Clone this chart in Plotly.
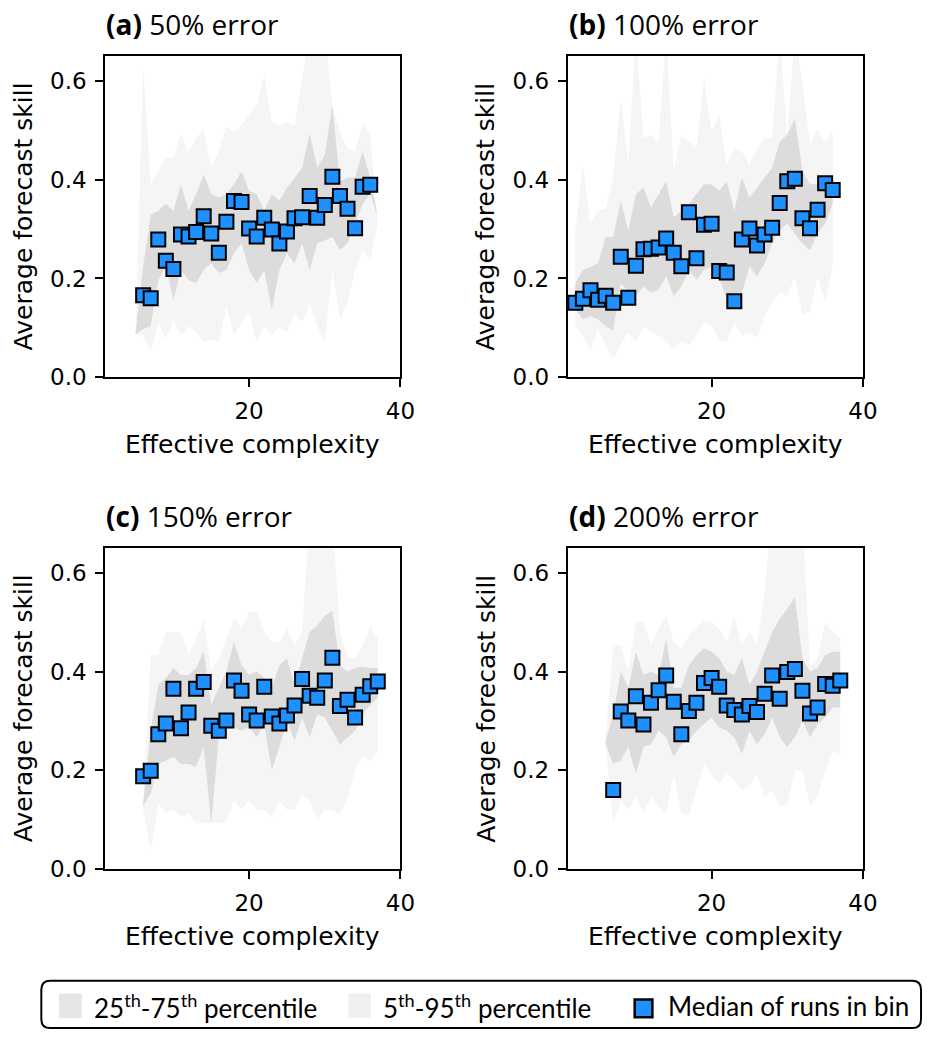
import plotly.graph_objects as go

W, H = 938, 1045

# ---------------- data ----------------
# Panel (a) 50% error
a_x = list(range(6, 37))
a_med = [0.166, 0.160, 0.279, 0.236, 0.219, 0.289, 0.285, 0.294, 0.326, 0.291, 0.252, 0.315,
         0.357, 0.355, 0.301, 0.285, 0.323, 0.299, 0.271, 0.295, 0.322, 0.324, 0.367, 0.323,
         0.349, 0.406, 0.367, 0.341, 0.302, 0.386, 0.390]
a_bx = list(range(5, 38))
a_p95 = [0.090, 0.634, 0.391, 0.417, 0.444, 0.444, 0.494, 0.457, 0.484, 0.504, 0.424, 0.457,
         0.507, 0.497, 0.511, 0.531, 0.551, 0.614, 0.517, 0.511, 0.517, 0.511, 0.604, 0.700,
         0.700, 0.700, 0.551, 0.497, 0.464, 0.457, 0.511, 0.491, 0.311]
a_p5 = [0.087, 0.084, 0.051, 0.111, 0.077, 0.117, 0.084, 0.104, 0.091, 0.071, 0.077, 0.071,
        0.144, 0.084, 0.111, 0.131, 0.071, 0.104, 0.084, 0.104, 0.091, 0.131, 0.111, 0.151,
        0.104, 0.071, 0.217, 0.117, 0.151, 0.217, 0.257, 0.237, 0.311]
a_p75 = [0.090, 0.224, 0.330, 0.337, 0.351, 0.337, 0.391, 0.337, 0.371, 0.411, 0.371, 0.364,
         0.371, 0.391, 0.417, 0.377, 0.371, 0.337, 0.371, 0.357, 0.384, 0.404, 0.424, 0.494,
         0.424, 0.451, 0.551, 0.397, 0.404, 0.404, 0.457, 0.404, 0.324]
a_p25 = [0.087, 0.097, 0.104, 0.197, 0.224, 0.157, 0.217, 0.197, 0.191, 0.217, 0.231, 0.211,
         0.217, 0.251, 0.271, 0.217, 0.191, 0.217, 0.137, 0.217, 0.251, 0.231, 0.271, 0.217,
         0.271, 0.277, 0.284, 0.257, 0.271, 0.311, 0.351, 0.371, 0.324]

# Panel (b) 100% error
b_x = list(range(2, 37))
b_med = [0.151, 0.159, 0.176, 0.157, 0.165, 0.151, 0.244, 0.161, 0.226, 0.259, 0.260, 0.263,
         0.281, 0.252, 0.225, 0.334, 0.241, 0.309, 0.311, 0.215, 0.212, 0.154, 0.279, 0.301,
         0.267, 0.289, 0.303, 0.353, 0.397, 0.402, 0.322, 0.302, 0.339, 0.393, 0.379]
b_bx = list(range(2, 37))
b_p95 = [0.300, 0.430, 0.311, 0.337, 0.341, 0.404, 0.564, 0.431, 0.700, 0.484, 0.491, 0.477,
         0.700, 0.417, 0.491, 0.477, 0.464, 0.604, 0.497, 0.531, 0.431, 0.464, 0.457, 0.431,
         0.464, 0.484, 0.484, 0.700, 0.484, 0.700, 0.597, 0.471, 0.504, 0.477, 0.497]
b_p5 = [0.104, 0.084, 0.054, 0.097, 0.064, 0.037, 0.067, 0.091, 0.071, 0.104, 0.091, 0.084,
        0.071, 0.057, 0.071, 0.064, 0.084, 0.111, 0.104, 0.077, 0.071, 0.111, 0.084, 0.091,
        0.081, 0.124, 0.151, 0.171, 0.164, 0.204, 0.127, 0.131, 0.204, 0.151, 0.224]
b_p75 = [0.191, 0.217, 0.224, 0.231, 0.284, 0.284, 0.357, 0.297, 0.371, 0.384, 0.344, 0.371,
         0.397, 0.324, 0.337, 0.351, 0.371, 0.391, 0.391, 0.377, 0.397, 0.337, 0.404, 0.364,
         0.384, 0.404, 0.424, 0.477, 0.491, 0.524, 0.417, 0.391, 0.391, 0.391, 0.377]
b_p25 = [0.137, 0.117, 0.124, 0.117, 0.104, 0.094, 0.191, 0.171, 0.164, 0.184, 0.171, 0.177,
         0.204, 0.164, 0.184, 0.217, 0.197, 0.217, 0.224, 0.204, 0.157, 0.144, 0.171, 0.224,
         0.204, 0.231, 0.271, 0.297, 0.311, 0.291, 0.271, 0.257, 0.291, 0.311, 0.351]

# Panel (c) 150% error
c_x = list(range(6, 38))
c_med = [0.188, 0.199, 0.273, 0.295, 0.365, 0.285, 0.317, 0.365, 0.379, 0.290, 0.280, 0.301,
         0.382, 0.361, 0.313, 0.301, 0.369, 0.309, 0.295, 0.311, 0.331, 0.385, 0.351, 0.347,
         0.382, 0.428, 0.330, 0.343, 0.307, 0.353, 0.370, 0.380]
c_bx = list(range(6, 38))
c_p95 = [0.133, 0.433, 0.433, 0.480, 0.480, 0.480, 0.433, 0.467, 0.507, 0.400, 0.427, 0.467,
         0.507, 0.487, 0.520, 0.520, 0.480, 0.460, 0.460, 0.487, 0.453, 0.480, 0.720, 0.720,
         0.720, 0.720, 0.480, 0.427, 0.427, 0.453, 0.490, 0.467]
c_p5 = [0.120, 0.037, 0.133, 0.113, 0.120, 0.107, 0.113, 0.093, 0.093, 0.093, 0.093, 0.097,
        0.140, 0.120, 0.140, 0.120, 0.120, 0.105, 0.140, 0.120, 0.120, 0.150, 0.140, 0.100,
        0.120, 0.120, 0.110, 0.145, 0.200, 0.230, 0.220, 0.240]
c_p75 = [0.133, 0.280, 0.373, 0.387, 0.407, 0.393, 0.393, 0.407, 0.440, 0.333, 0.367, 0.400,
         0.460, 0.413, 0.393, 0.400, 0.387, 0.367, 0.413, 0.427, 0.373, 0.427, 0.480, 0.493,
         0.513, 0.523, 0.413, 0.400, 0.407, 0.410, 0.407, 0.407]
c_p25 = [0.127, 0.153, 0.213, 0.220, 0.227, 0.213, 0.213, 0.207, 0.247, 0.093, 0.267, 0.293,
         0.287, 0.280, 0.287, 0.267, 0.293, 0.200, 0.247, 0.300, 0.260, 0.307, 0.267, 0.313,
         0.307, 0.280, 0.253, 0.267, 0.280, 0.313, 0.333, 0.347]

# Panel (d) 200% error
d_x = list(range(7, 38))
d_med = [0.160, 0.319, 0.301, 0.350, 0.293, 0.337, 0.362, 0.392, 0.339, 0.273, 0.320, 0.337,
         0.377, 0.387, 0.369, 0.331, 0.322, 0.313, 0.330, 0.318, 0.355, 0.392, 0.345, 0.399,
         0.405, 0.361, 0.315, 0.327, 0.375, 0.371, 0.382]
d_bx = list(range(6, 38))
d_p95 = [0.260, 0.453, 0.453, 0.400, 0.503, 0.500, 0.453, 0.487, 0.513, 0.460, 0.447, 0.473,
         0.487, 0.503, 0.500, 0.487, 0.460, 0.513, 0.453, 0.480, 0.453, 0.560, 0.720, 0.720,
         0.720, 0.720, 0.720, 0.413, 0.427, 0.500, 0.480, 0.467]
d_p5 = [0.253, 0.093, 0.140, 0.120, 0.147, 0.113, 0.147, 0.127, 0.113, 0.193, 0.113, 0.107,
        0.160, 0.213, 0.193, 0.173, 0.193, 0.180, 0.160, 0.167, 0.193, 0.147, 0.160, 0.127,
        0.133, 0.200, 0.200, 0.127, 0.147, 0.200, 0.240, 0.233]
d_p75 = [0.260, 0.313, 0.400, 0.367, 0.440, 0.393, 0.400, 0.393, 0.467, 0.367, 0.367, 0.413,
         0.433, 0.447, 0.440, 0.427, 0.400, 0.393, 0.427, 0.373, 0.400, 0.440, 0.480, 0.507,
         0.527, 0.550, 0.427, 0.400, 0.407, 0.433, 0.440, 0.440]
d_p25 = [0.253, 0.213, 0.220, 0.247, 0.193, 0.247, 0.253, 0.280, 0.267, 0.227, 0.253, 0.260,
         0.280, 0.293, 0.307, 0.287, 0.280, 0.267, 0.233, 0.280, 0.253, 0.273, 0.307, 0.267,
         0.247, 0.267, 0.300, 0.267, 0.293, 0.307, 0.327, 0.327]

titles = ["(a)", "(b)", "(c)", "(d)"]
subtitles = ["50% error", "100% error", "150% error", "200% error"]
x_ticks = [20, 40]
y_ticks = [0.0, 0.2, 0.4, 0.6]
x_label = "Effective complexity"
y_label = "Average forecast skill"
legend_labels = ["25<sup>th</sup>-75<sup>th</sup> percentile",
                 "5<sup>th</sup>-95<sup>th</sup> percentile",
                 "Median of runs in bin"]

panels = [
    (a_x, a_med, a_bx, a_p5, a_p25, a_p75, a_p95),
    (b_x, b_med, b_bx, b_p5, b_p25, b_p75, b_p95),
    (c_x, c_med, c_bx, c_p5, c_p25, c_p75, c_p95),
    (d_x, d_med, d_bx, d_p5, d_p25, d_p75, d_p95),
]

# ---------------- style / layout ----------------
DARK = "#DCDCDC"
LIGHT = "#F5F5F5"
BLUE = "#1E90FF"
TICKFONT = dict(family="DejaVu Sans", size=23, color="black")
LABFONT = dict(family="DejaVu Sans", size=25, color="black")
TITLEFONT = dict(family="Open Sans", size=28, color="black")
LEGFONT = dict(family="Lato", size=26, color="black")


def px(x):
    return x / W


def py(y):
    return 1 - y / H


# pixel boxes (left, right, top, bottom)
boxes = [(107, 407, 57, 382), (577, 877, 57, 382),
         (107, 407, 555, 880), (577, 877, 555, 880)]

fig = go.Figure()
annotations = []
layout_axes = {}

for i, (xs, med, bx, p5, p25, p75, p95) in enumerate(panels):
    n = i + 1
    xa = "x" if n == 1 else f"x{n}"
    ya = "y" if n == 1 else f"y{n}"
    # 5-95 band
    fig.add_trace(go.Scatter(x=bx + bx[::-1], y=p95 + p5[::-1], fill="toself",
                             fillcolor=LIGHT, line=dict(width=0), mode="lines",
                             hoverinfo="skip", showlegend=False, xaxis=xa, yaxis=ya))
    # 25-75 band
    fig.add_trace(go.Scatter(x=bx + bx[::-1], y=p75 + p25[::-1], fill="toself",
                             fillcolor=DARK, line=dict(width=0), mode="lines",
                             hoverinfo="skip", showlegend=False, xaxis=xa, yaxis=ya))
    # medians
    fig.add_trace(go.Scatter(x=xs, y=med, mode="markers",
                             marker=dict(symbol="square", size=14, color=BLUE,
                                         line=dict(color="black", width=2)),
                             showlegend=False, xaxis=xa, yaxis=ya))
    l, r, t, b = boxes[i]
    axcommon = dict(showline=True, linecolor="black", linewidth=2, mirror=True,
                    ticks="outside", ticklen=8, tickwidth=2, tickcolor="black",
                    showgrid=False, zeroline=False, tickfont=TICKFONT,
                    ticklabelstandoff=4)
    layout_axes["xaxis" if n == 1 else f"xaxis{n}"] = dict(
        domain=[px(l), px(r)], range=[1, 40], tickvals=x_ticks,
        anchor=ya, **axcommon)
    layout_axes["yaxis" if n == 1 else f"yaxis{n}"] = dict(
        domain=[py(b), py(t)], range=[0, 0.65], tickvals=y_ticks,
        tickformat=".1f", anchor=xa, **axcommon)
    # panel title
    annotations.append(dict(x=px(l - 1), y=py(t - 33), xref="paper", yref="paper",
                            xanchor="left", yanchor="middle", showarrow=False,
                            text=f"<b>{titles[i]}</b> {subtitles[i]}", font=TITLEFONT))
    # axis labels
    annotations.append(dict(x=px((l + r) / 2), y=py(b + 68), xref="paper", yref="paper",
                            xanchor="center", yanchor="middle", showarrow=False,
                            text=x_label, font=LABFONT))
    annotations.append(dict(x=px(l - 83), y=py((t + b) / 2), xref="paper", yref="paper",
                            xanchor="center", yanchor="middle", showarrow=False,
                            text=y_label, textangle=-90, font=LABFONT))

# ---------------- legend box ----------------
L, R, T, B, rad = 42, 936, 993, 1041, 9
rx, ry = rad / W, rad / H
path = (f"M {px(L)+rx},{py(T)} L {px(R)-rx},{py(T)} Q {px(R)},{py(T)} {px(R)},{py(T)-ry} "
        f"L {px(R)},{py(B)+ry} Q {px(R)},{py(B)} {px(R)-rx},{py(B)} "
        f"L {px(L)+rx},{py(B)} Q {px(L)},{py(B)} {px(L)},{py(B)+ry} "
        f"L {px(L)},{py(T)-ry} Q {px(L)},{py(T)} {px(L)+rx},{py(T)} Z")
shapes = [dict(type="path", path=path, xref="paper", yref="paper",
               line=dict(color="black", width=2), fillcolor="white", layer="below")]
shapes.append(dict(type="rect", xref="paper", yref="paper", x0=px(60), x1=px(83),
                   y0=py(1031), y1=py(1006), fillcolor="#E6E6E6", line=dict(width=0)))
shapes.append(dict(type="rect", xref="paper", yref="paper", x0=px(354), x1=px(377),
                   y0=py(1031), y1=py(1006), fillcolor="#F0F0F0", line=dict(width=0)))
shapes.append(dict(type="rect", xref="paper", yref="paper", x0=px(645), x1=px(663),
                   y0=py(1030), y1=py(1012), fillcolor=BLUE,
                   line=dict(color="black", width=2.5)))
for xpos, lab in zip([94, 387, 677], legend_labels):
    annotations.append(dict(x=px(xpos), y=py(1019), xref="paper", yref="paper",
                            xanchor="left", yanchor="middle", showarrow=False,
                            text=lab, font=LEGFONT))

fig.update_layout(width=W, height=H, margin=dict(l=0, r=0, t=0, b=0),
                  paper_bgcolor="white", plot_bgcolor="white",
                  annotations=annotations, shapes=shapes, showlegend=False,
                  **layout_axes)

fig.write_html("out.html")
